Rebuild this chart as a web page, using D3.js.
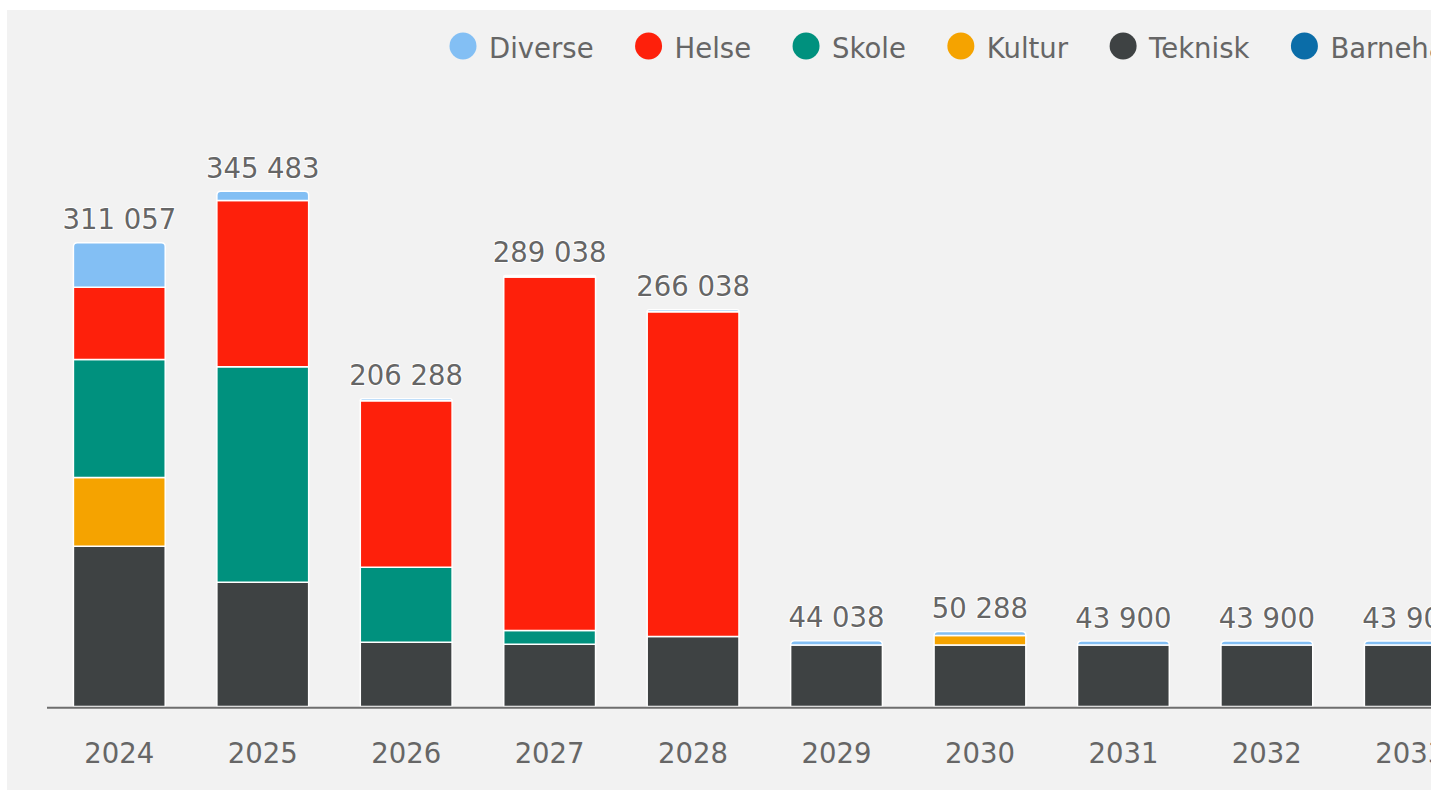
<!DOCTYPE html>
<html>
<head>
<meta charset="utf-8">
<script src="https://cdn.jsdelivr.net/npm/d3@7/dist/d3.min.js"></script>
<style>
  html, body { margin: 0; padding: 0; background: #ffffff; overflow: hidden; }
  svg { display: block; font-family: "DejaVu Sans", sans-serif; }
</style>
</head>
<body>
<svg id="chart" width="1431" height="790"></svg>
<script>
// Investment per year, split by sector (NOK 1000)
const years     = ["2024", "2025", "2026", "2027", "2028", "2029", "2030", "2031", "2032", "2033"];
const barnehage = [0, 0, 0, 0, 0, 0, 0, 0, 0, 0];
const teknisk   = [107500, 83283, 43100, 41800, 47000, 41200, 41200, 41200, 41200, 41200];
const kultur    = [46000, 0, 0, 0, 0, 0, 6388, 0, 0, 0];
const skole     = [79200, 144510, 50300, 9200, 0, 0, 0, 0, 0, 0];
const helse     = [48500, 111520, 111600, 237000, 217700, 0, 0, 0, 0, 0];
const diverse   = [29857, 6170, 1288, 1038, 1338, 2838, 2700, 2700, 2700, 2700];

const legendNames  = ["Diverse", "Helse", "Skole", "Kultur", "Teknisk", "Barnehage"];
const seriesColors = ["#83bff4", "#fe200b", "#00917e", "#f5a300", "#3e4243", "#0b6da8"];

const seriesValues = {
  Diverse: diverse, Helse: helse, Skole: skole,
  Kultur: kultur, Teknisk: teknisk, Barnehage: barnehage
};

// stacking runs bottom-up, so the legend order is reversed
const stackKeys = legendNames.slice().reverse();
const rows = years.map((y, i) => {
  const r = { year: y };
  stackKeys.forEach(k => { r[k] = seriesValues[k][i]; });
  return r;
});
const totals = rows.map(r => d3.sum(stackKeys, k => r[k]));

const colorOf = d3.scaleOrdinal().domain(legendNames).range(seriesColors);
const fmt = d3.formatLocale({ decimal: ",", thousands: " ", grouping: [3], currency: ["", ""] }).format(",d");

const svg = d3.select("#chart");
const W = 1431, H = 790;
const FONT = 27.5;

// panel background
svg.append("rect").attr("x", 7).attr("y", 10).attr("width", W).attr("height", H - 10).attr("fill", "#f2f2f2");

const x = d3.scaleBand().domain(years).range([47.6, 1482]).paddingInner(0.36).paddingOuter(0.18);
const y = d3.scaleLinear().domain([0, 400000]).range([706.5, 110]);

const stacked = d3.stack().keys(stackKeys)(rows);

// key of the top-most non-empty segment in each column
const topKey = rows.map(r => {
  let t = null;
  stackKeys.forEach(k => { if (r[k] > 0) t = k; });
  return t;
});

function segPath(x0, x1, yTop, yBot, rounded) {
  const h = yBot - yTop;
  const r = rounded ? Math.min(4, h, (x1 - x0) / 2) : 0;
  if (r <= 0) return `M${x0},${yBot}V${yTop}H${x1}V${yBot}Z`;
  return `M${x0},${yBot}V${yTop + r}Q${x0},${yTop} ${x0 + r},${yTop}H${x1 - r}Q${x1},${yTop} ${x1},${yTop + r}V${yBot}Z`;
}

const g = svg.append("g");
stacked.forEach(layer => {
  g.append("g")
    .selectAll("path")
    .data(layer.map((d, i) => ({ d, i, key: layer.key })).filter(o => o.d[1] - o.d[0] > 0))
    .join("path")
    .attr("d", o => {
      const x0 = x(o.d.data.year), x1 = x0 + x.bandwidth();
      return segPath(x0, x1, y(o.d[1]), y(o.d[0]), topKey[o.i] === o.key);
    })
    .attr("fill", o => colorOf(o.key))
    .attr("stroke", "#ffffff")
    .attr("stroke-width", 1.5)
    .attr("stroke-linejoin", "round");
});

// x axis line
svg.append("line")
  .attr("x1", 47).attr("x2", W)
  .attr("y1", 707.7).attr("y2", 707.7)
  .attr("stroke", "#6e6e6e").attr("stroke-width", 2);

// x axis labels
svg.append("g").selectAll("text")
  .data(years)
  .join("text")
  .attr("x", d => x(d) + x.bandwidth() / 2)
  .attr("y", 762.7)
  .attr("text-anchor", "middle")
  .attr("font-size", FONT)
  .attr("fill", "#666666")
  .text(d => d);

// stack totals
svg.append("g").selectAll("text")
  .data(years)
  .join("text")
  .attr("x", d => x(d) + x.bandwidth() / 2)
  .attr("y", (d, i) => y(totals[i]) - 13.5)
  .attr("text-anchor", "middle")
  .attr("font-size", FONT)
  .attr("fill", "#666666")
  .attr("stroke", "#ffffff")
  .attr("stroke-width", 2)
  .attr("stroke-linejoin", "round")
  .attr("paint-order", "stroke")
  .text((d, i) => fmt(totals[i]));

// legend
const legend = svg.append("g");
let cursor = 449.5;
legendNames.forEach(name => {
  const item = legend.append("g");
  item.append("circle")
    .attr("cx", cursor + 13.5).attr("cy", 46).attr("r", 13.5)
    .attr("fill", colorOf(name));
  const t = item.append("text")
    .attr("x", cursor + 39.5).attr("y", 57.5)
    .attr("font-size", FONT)
    .attr("fill", "#666666")
    .text(name);
  const tw = t.node().getComputedTextLength();
  cursor = cursor + 39.5 + tw + 41.5;
});
</script>
</body>
</html>
